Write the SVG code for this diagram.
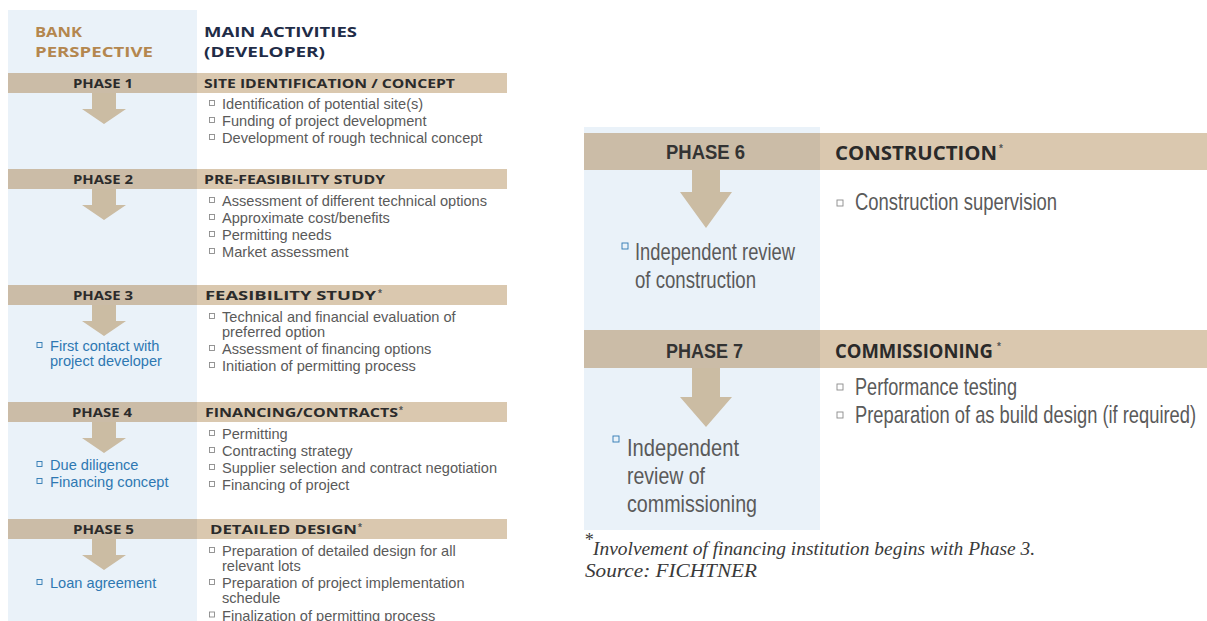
<svg xmlns="http://www.w3.org/2000/svg" width="1207" height="621" viewBox="0 0 1207 621">
<style>
.hdr{font-family:"Open Sans","Liberation Sans",sans-serif;font-weight:700;font-size:14px}
.bank{fill:#b4874f}
.main{fill:#1f2c47}
.ph{font-family:"Open Sans","Liberation Sans",sans-serif;font-weight:700;font-size:12.5px;fill:#2b2b2b}
.it{font-family:"Liberation Sans",Arial,sans-serif;font-size:14.6px;fill:#5a5a5a}
.bl{fill:#2e78b2}
.bx{fill:none;stroke:#8a8a8a;stroke-width:0.9}
.bxb{fill:none;stroke:#2e78b2;stroke-width:0.9}
.barL{fill:#cbbca7}
.barR{fill:#dac8af}
.arr{fill:#cbbca3}
.col{fill:#eaf2f9}
.rph{font-family:"Liberation Sans Narrow","Liberation Sans",sans-serif;font-weight:700;font-size:20px;fill:#333}
.rhd{font-family:"Open Sans","Liberation Sans",sans-serif;font-weight:700;font-size:20px;fill:#2a2a2a}
.rit{font-family:"Liberation Sans Narrow","Liberation Sans",sans-serif;font-size:24px;fill:#5a5a5a}
.fn{font-family:"Liberation Serif",serif;font-style:italic;font-size:18px;fill:#3a3a3a}
.ast{font-family:"Liberation Sans",sans-serif;font-weight:700;font-size:10px;fill:#555}
</style>
<defs>
<rect id="sq" width="5" height="5"/>
<rect id="sqL" width="6" height="6"/>
</defs>
<rect width="1207" height="621" fill="#fff"/>
<rect class="col" x="8" y="10" width="189" height="611"/>
<rect class="col" x="584" y="127" width="236" height="403"/>

<g id="header">
<text class="hdr bank" x="35" y="37" textLength="47" lengthAdjust="spacingAndGlyphs">BANK</text>
<text class="hdr bank" x="35" y="57" textLength="118" lengthAdjust="spacingAndGlyphs">PERSPECTIVE</text>
<text class="hdr main" x="204" y="37" textLength="153" lengthAdjust="spacingAndGlyphs">MAIN ACTIVITIES</text>
<text class="hdr main" x="204" y="57" textLength="121" lengthAdjust="spacingAndGlyphs">(DEVELOPER)</text>
</g>

<g id="connectors">
<path class="arr" d="M92 93 H116 V109 H126 L104 124 L82 109 H92 Z"/>
<path class="arr" d="M92 189 H116 V205 H126 L104 220 L82 205 H92 Z"/>
<path class="arr" d="M92 305 H116 V321 H126 L104 336 L82 321 H92 Z"/>
<path class="arr" d="M92 421 H116 V438 H126 L104 453 L82 438 H92 Z"/>
<path class="arr" d="M92 539 H116 V555 H126 L104 570 L82 555 H92 Z"/>
<path class="arr" d="M692 170 H720 V192 H732 L706 228 L680 192 H692 Z"/>
<path class="arr" d="M692 368 H720 V397 H732 L706 427 L680 397 H692 Z"/>
</g>

<g id="phase1">
<rect class="barL" x="8" y="73" width="189" height="20"/>
<rect class="barR" x="197" y="73" width="310" height="20"/>
<text class="ph" x="73" y="88" textLength="60" lengthAdjust="spacingAndGlyphs">PHASE 1</text>
<text class="ph" x="204" y="88" textLength="251" lengthAdjust="spacingAndGlyphs">SITE IDENTIFICATION / CONCEPT</text>
<use href="#sq" class="bx" x="209.5" y="100.5"/>
<text class="it" x="222" y="109">Identification of potential site(s)</text>
<use href="#sq" class="bx" x="209.5" y="117.5"/>
<text class="it" x="222" y="126">Funding of project development</text>
<use href="#sq" class="bx" x="209.5" y="134.5"/>
<text class="it" x="222" y="143">Development of rough technical concept</text>
</g>

<g id="phase2">
<rect class="barL" x="8" y="169" width="189" height="20"/>
<rect class="barR" x="197" y="169" width="310" height="20"/>
<text class="ph" x="73" y="184" textLength="60" lengthAdjust="spacingAndGlyphs">PHASE 2</text>
<text class="ph" x="204" y="184" textLength="181" lengthAdjust="spacingAndGlyphs">PRE-FEASIBILITY STUDY</text>
<use href="#sq" class="bx" x="209.5" y="197.5"/>
<text class="it" x="222" y="206">Assessment of different technical options</text>
<use href="#sq" class="bx" x="209.5" y="214.5"/>
<text class="it" x="222" y="223">Approximate cost/benefits</text>
<use href="#sq" class="bx" x="209.5" y="231.5"/>
<text class="it" x="222" y="240">Permitting needs</text>
<use href="#sq" class="bx" x="209.5" y="248.5"/>
<text class="it" x="222" y="257">Market assessment</text>
</g>

<g id="phase3">
<rect class="barL" x="8" y="285" width="189" height="20"/>
<rect class="barR" x="197" y="285" width="310" height="20"/>
<text class="ph" x="73" y="300" textLength="60" lengthAdjust="spacingAndGlyphs">PHASE 3</text>
<text class="ph" x="205" y="300" textLength="171" lengthAdjust="spacingAndGlyphs">FEASIBILITY STUDY</text>
<text class="ast" x="378" y="297">*</text>
<use href="#sq" class="bx" x="209.5" y="313.5"/>
<text class="it" x="222" y="322">Technical and financial evaluation of</text>
<text class="it" x="222" y="337">preferred option</text>
<use href="#sq" class="bx" x="209.5" y="345.5"/>
<text class="it" x="222" y="354">Assessment of financing options</text>
<use href="#sq" class="bx" x="209.5" y="362.5"/>
<text class="it" x="222" y="371">Initiation of permitting process</text>
<use href="#sq" class="bxb" x="37" y="342.5"/>
<text class="it bl" x="50" y="351">First contact with</text>
<text class="it bl" x="50" y="366">project developer</text>
</g>

<g id="phase4">
<rect class="barL" x="8" y="402" width="189" height="20"/>
<rect class="barR" x="197" y="402" width="310" height="20"/>
<text class="ph" x="72" y="417" textLength="60" lengthAdjust="spacingAndGlyphs">PHASE 4</text>
<text class="ph" x="205" y="417" textLength="193" lengthAdjust="spacingAndGlyphs">FINANCING/CONTRACTS</text>
<text class="ast" x="399" y="414">*</text>
<use href="#sq" class="bx" x="209.5" y="430.5"/>
<text class="it" x="222" y="439">Permitting</text>
<use href="#sq" class="bx" x="209.5" y="447.5"/>
<text class="it" x="222" y="456">Contracting strategy</text>
<use href="#sq" class="bx" x="209.5" y="464.5"/>
<text class="it" x="222" y="473">Supplier selection and contract negotiation</text>
<use href="#sq" class="bx" x="209.5" y="481.5"/>
<text class="it" x="222" y="490">Financing of project</text>
<use href="#sq" class="bxb" x="37" y="461.5"/>
<text class="it bl" x="50" y="470">Due diligence</text>
<use href="#sq" class="bxb" x="37" y="478.5"/>
<text class="it bl" x="50" y="487">Financing concept</text>
</g>

<g id="phase5">
<rect class="barL" x="8" y="519" width="189" height="20"/>
<rect class="barR" x="197" y="519" width="310" height="20"/>
<text class="ph" x="73" y="534" textLength="61" lengthAdjust="spacingAndGlyphs">PHASE 5</text>
<text class="ph" x="210" y="534" textLength="147" lengthAdjust="spacingAndGlyphs">DETAILED DESIGN</text>
<text class="ast" x="358" y="531">*</text>
<use href="#sq" class="bx" x="209.5" y="547.5"/>
<text class="it" x="222" y="556">Preparation of detailed design for all</text>
<text class="it" x="222" y="571">relevant lots</text>
<use href="#sq" class="bx" x="209.5" y="579.5"/>
<text class="it" x="222" y="588">Preparation of project implementation</text>
<text class="it" x="222" y="603">schedule</text>
<use href="#sq" class="bx" x="209.5" y="612"/>
<text class="it" x="222" y="620.5">Finalization of permitting process</text>
<use href="#sq" class="bxb" x="37" y="579.5"/>
<text class="it bl" x="50" y="588">Loan agreement</text>
</g>

<g id="phase6">
<rect class="barL" x="584" y="133" width="236" height="37"/>
<rect class="barR" x="820" y="133" width="387" height="37"/>
<text class="rph" x="666" y="159" textLength="79" lengthAdjust="spacingAndGlyphs">PHASE 6</text>
<text class="rhd" x="835" y="160" textLength="162" lengthAdjust="spacingAndGlyphs">CONSTRUCTION</text>
<text class="ast" x="999" y="152" font-size="11">*</text>
<use href="#sqL" class="bx" x="837" y="200"/>
<text class="rit" x="855" y="210" textLength="202" lengthAdjust="spacingAndGlyphs">Construction supervision</text>
<use href="#sqL" class="bxb" x="622" y="243"/>
<text class="rit bl" x="635" y="260" textLength="160" lengthAdjust="spacingAndGlyphs">Independent review</text>
<text class="rit bl" x="635" y="288" textLength="121" lengthAdjust="spacingAndGlyphs">of construction</text>
</g>

<g id="phase7">
<rect class="barL" x="584" y="330" width="236" height="38"/>
<rect class="barR" x="820" y="330" width="387" height="38"/>
<text class="rph" x="666" y="358" textLength="77" lengthAdjust="spacingAndGlyphs">PHASE 7</text>
<text class="rhd" transform="translate(835 358) scale(0.88 1)" x="0" y="0" textLength="179.5" lengthAdjust="spacingAndGlyphs">COMMISSIONING</text>
<text class="ast" x="997" y="350" font-size="11">*</text>
<use href="#sqL" class="bx" x="837" y="384"/>
<text class="rit" x="855" y="395" textLength="162" lengthAdjust="spacingAndGlyphs">Performance testing</text>
<use href="#sqL" class="bx" x="837" y="412"/>
<text class="rit" transform="translate(855 423) scale(0.763 1)" x="0" y="0" textLength="447" lengthAdjust="spacingAndGlyphs">Preparation of as build design (if required)</text>
<use href="#sqL" class="bxb" x="613" y="436"/>
<text class="rit bl" x="627" y="456" textLength="112" lengthAdjust="spacingAndGlyphs" font-size="26">Independent</text>
<text class="rit bl" x="627" y="484" textLength="78" lengthAdjust="spacingAndGlyphs" font-size="26">review of</text>
<text class="rit bl" x="627" y="512" textLength="130" lengthAdjust="spacingAndGlyphs" font-size="26">commissioning</text>
</g>

<g id="footnote">
<text class="fn" x="584" y="546" font-size="9">*</text>
<text class="fn" x="593" y="555" textLength="442" lengthAdjust="spacingAndGlyphs">Involvement of financing institution begins with Phase 3.</text>
<text class="fn" x="585" y="577" textLength="172" lengthAdjust="spacingAndGlyphs">Source: FICHTNER</text>
</g>
</svg>
